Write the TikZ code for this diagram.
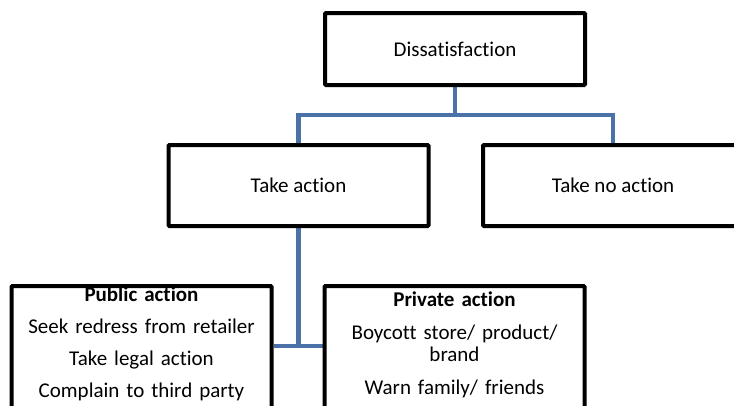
\documentclass[tikz,border=0pt]{standalone}
\usepackage{fontspec}
\setmainfont{Carlito}[Ligatures=NoCommon]
\usetikzlibrary{backgrounds}
\definecolor{linkblue}{RGB}{74,114,168}
\begin{document}
\begin{tikzpicture}[x=1pt,y=1pt]
	\tikzstyle{box}=[draw=black,line width=4pt,fill=white,rounded corners=1pt,minimum width=260pt,text centered,inner sep=0pt,font=\fontsize{21pt}{22pt}\selectfont]
	\tikzstyle{choice}=[box,minimum height=81pt]
	\tikzstyle{actionlist}=[box,anchor=north,align=center,text width=254pt,inner ysep=1pt,text depth=125pt]
	\tikzstyle{link}=[draw=linkblue,line width=4.5pt]

	\useasboundingbox (0,0) rectangle (734,-405);
	\clip (0,0) rectangle (734,-405);

	\node[box,minimum height=72pt] (dis) at (455,-49) {Dissatisfaction};
	\node[choice,anchor=north] (act) at ([xshift=-156.5pt,yshift=-56pt]dis.south) {Take action};
	\node[choice,anchor=north] (noact) at ([xshift=158pt,yshift=-56pt]dis.south) {Take no action};
	\node[actionlist] (pub) at ([xshift=-157pt,yshift=-56pt]act.south) {\textbf{Public action}\\[10pt] Seek redress from retailer\\[10pt] Take legal action\\[10pt] Complain to third party};
	\node[actionlist,inner ysep=6pt] (priv) at ([xshift=156pt,yshift=-56pt]act.south) {\textbf{Private action}\\[11pt] Boycott store/ product/\\ brand\\[11pt] Warn family/ friends};

	\begin{scope}[on background layer]
		\coordinate (split) at ([yshift=-28pt]dis.south);
		\coordinate (join) at ([yshift=-118pt]act.south);
		\draw[link] (dis.south) -- (split);
		\foreach \t in {act,noact}
		\draw[link] (split) -| (\t.north);
		\draw[link] (act.south) -- (join);
		\draw[link] (pub.east |- join) -- (priv.west |- join);
	\end{scope}
\end{tikzpicture}
\end{document}
